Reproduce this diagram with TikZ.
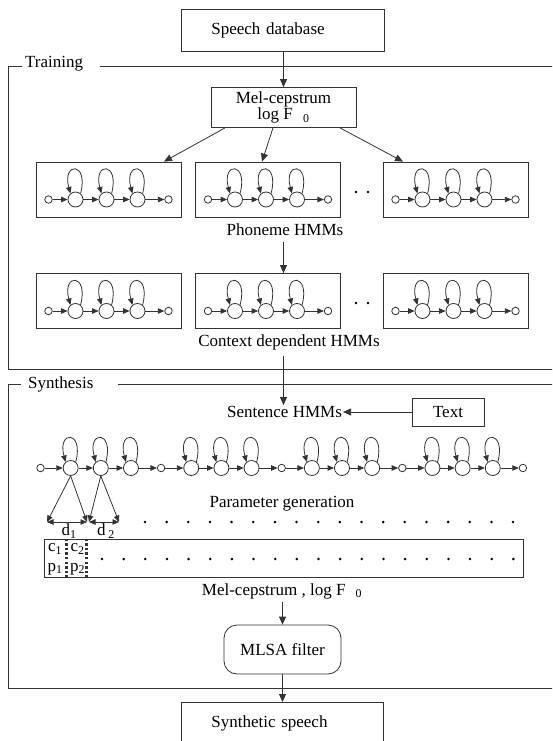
\documentclass[tikz,border=0pt]{standalone}
\usepackage{fontspec}
\setmainfont{Liberation Serif}
\usetikzlibrary{arrows.meta}
\colorlet{ink}{black!80}

\tikzset{
  box/.style={draw=ink, line width=0.8pt, inner sep=0pt},
  st/.style={circle, draw=ink, line width=0.8pt, minimum size=15pt, inner sep=0pt},
  tiny/.style={circle, draw=ink, line width=0.8pt, minimum size=7.5pt, inner sep=0pt},
  flow/.style={draw=ink, line width=0.8pt, -{Triangle[length=8pt,width=7pt]}},
  hop/.style={draw=ink, line width=0.8pt, -{Triangle[length=6.5pt,width=5.5pt]}},
  span/.style={draw=ink, line width=0.8pt, {Triangle[length=6.5pt,width=5.5pt]}-{Triangle[length=6.5pt,width=5.5pt]}},
  cut/.style={draw=ink, line width=2.4pt, dash pattern=on 2.4pt off 2.2pt},
  lbl/.style={inner sep=1pt},
  frame/.style={draw=ink, line width=0.9pt},
  tag/.style={fill=white, anchor=base west, inner ysep=2pt, align=left},
}

\begin{document}
\begin{tikzpicture}[x=1pt, y=-1pt, font=\fontsize{17}{20}\selectfont]
    \useasboundingbox (0,0) rectangle (552,741);
    \clip (0,0) rectangle (552,741);

    % Frames
    \draw[frame] (8,66) rectangle (570,369);
    \node[tag, text width=72pt, inner xsep=3pt] (train) at (22,68) {Training};
    \draw[frame] (8,384) rectangle (570,688);
    \node[tag, text width=83pt, inner xsep=7pt] (synt) at (21,388) {Synthesis};

    % Training
    \node[box, anchor=north west, inner xsep=30pt, text width=143pt, align=left, minimum height=42pt] (db) at (181,9) {Speech database};
    \node[box, minimum width=145pt, minimum height=40pt, align=center, font=\fontsize{17}{15}\selectfont] (mel) at (283.5,107.5) {Mel-cepstrum\\log F\hspace{0.6em}\textsubscript{0}};
    \draw[flow] (db.south -| mel) -- (mel.north);

    % HMM boxes
    \foreach \nm/\cx/\cy in {p1/108.5/189.5, p2/268/189.5, p3/455.5/189.5, q1/108.5/301, q2/268/301, q3/455.5/301} {
        \node[box, minimum width=145pt, minimum height=55pt] (\nm) at (\cx,\cy) {};
        \node[tiny] (\nm s0) at (\cx-60,\cy+10) {};
        \foreach \k in {1,2,3}
            \node[st] (\nm s\k) at (\cx-64+31*\k,\cy+10) {};
        \node[tiny] (\nm s4) at (\cx+60,\cy+10) {};
        \foreach \k [count=\j] in {0,...,3}
            \draw[hop] (\nm s\k) -- (\nm s\j);
        \foreach \k in {1,2,3}
            \draw[hop] (\nm s\k.50) .. controls +(75:33pt) and +(105:33pt) .. (\nm s\k.130);
    }
    \foreach \dy in {192,303} {
        \fill (356,\dy) circle (1.4pt);
        \fill (368,\dy) circle (1.4pt);
    }

    \draw[flow] ([xshift=-58.5pt]mel.south) -- ([xshift=55.5pt]p1.north);
    \draw[flow] ([xshift=-10.5pt]mel.south) -- ([xshift=-6pt]p2.north);
    \draw[flow] ([xshift=56.5pt]mel.south) -- ([xshift=-52.5pt]p3.north);

    \node[lbl] (phon) at (285,230) {Phoneme HMMs};
    \draw[flow, shorten <=5pt] (phon.south -| mel) -- (q2.north -| mel);
    \node[lbl] (cdl) at (289,342) {Context dependent HMMs};

    % Synthesis
    \node[lbl] (sent) at (284.5,412) {Sentence HMMs};
    \node[box, minimum width=72pt, minimum height=28pt] (txt) at (448,412) {Text};
    \draw[flow, shorten <=5pt] (cdl.south -| mel) -- (sent.north -| mel);
    \draw[flow] (txt) -- (sent);

    % Sentence HMM chain
    \foreach \k in {0,...,16} {
        \pgfmathtruncatemacro{\m}{mod(\k,4)}
        \ifnum\m=0
            \node[tiny] (h\k) at (40.5+30.15*\k,468) {};
        \else
            \node[st] (h\k) at (40.5+30.15*\k,468) {};
        \fi
    }
    \foreach \k [count=\j] in {0,...,15}
        \draw[hop] (h\k) -- (h\j);
    \foreach \k in {1,2,3,5,6,7,9,10,11,13,14,15}
        \draw[hop] (h\k.50) .. controls +(75:33pt) and +(105:33pt) .. (h\k.130);

    % State durations
    \coordinate (d1a) at (47,522);
    \coordinate (d1b) at (87,522);
    \coordinate (d2a) at (89,522);
    \coordinate (d2b) at (119,522);
    \draw[hop] (h1.south) -- (d1a);
    \draw[hop] (h1.south) -- (d1b);
    \draw[hop] (h2.south) -- (d2a);
    \draw[hop] (h2.south) -- (d2b);
    \draw[span] (d1a) -- (d1b);
    \draw[span] (d2a) -- (d2b);
    \node[inner sep=0pt] (dl1) at (69,531) {d\textsubscript{1}};
    \node[inner sep=0pt] (dl2) at (106,531) {d\,\textsubscript{2}};

    \node[lbl] (pgen) at (282,504) {Parameter generation};
    \foreach \k in {0,...,17}
        \fill (145+21.65*\k,522) circle (1.4pt);

    % Parameter sequence
    \node[box, minimum width=479pt, minimum height=38pt] (par) at (283.5,558) {};
    \draw[cut] ([xshift=23pt]par.north west) -- ([xshift=23pt]par.south west);
    \draw[cut] ([xshift=43pt]par.north west) -- ([xshift=43pt]par.south west);
    \node[inner sep=0pt] (c1) at (55,549) {c\textsubscript{1}};
    \node[inner sep=0pt] (p1l) at (55,569) {p\textsubscript{1}};
    \node[inner sep=0pt] (c2) at (77.5,549) {c\textsubscript{2}};
    \node[inner sep=0pt] (p2l) at (77.5,569) {p\textsubscript{2}};
    \foreach \k in {0,...,19}
        \fill (102+21.65*\k,559) circle (1.4pt);

    \node[lbl] (mcep) at (282,591) {Mel-cepstrum , log F\hspace{0.6em}\textsubscript{0}};
    \node[box, rounded corners=13pt, minimum width=117pt, minimum height=49pt] (mlsa) at (282.5,649.5) {MLSA filter};
    \draw[flow, shorten <=2pt] (mcep.south -| mlsa) -- (mlsa.north);
    \node[box, anchor=north west, inner xsep=30pt, text width=142pt, align=left, minimum height=42pt] (synth) at (181,702) {Synthetic speech};
    \draw[flow] (mlsa.south) -- (mlsa.south |- synth.north);
\end{tikzpicture}
\end{document}
